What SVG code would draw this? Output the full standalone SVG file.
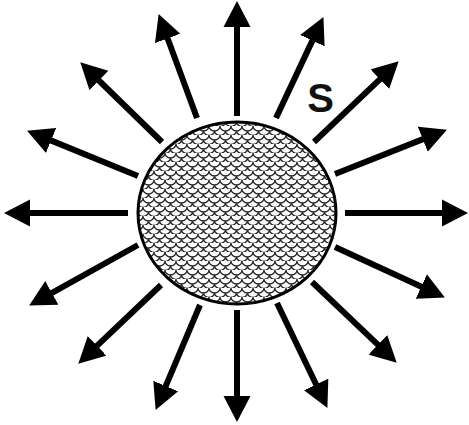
<svg xmlns="http://www.w3.org/2000/svg" width="469" height="425" viewBox="0 0 469 425">
<style>
.arrow{stroke:#000;stroke-width:6;fill:none;marker-end:url(#head)}
.label{font-family:"Liberation Sans",Arial,sans-serif;font-weight:bold;font-size:40px;fill:#111}
</style>
<defs>
<marker id="head" markerUnits="userSpaceOnUse" markerWidth="28" markerHeight="28" refX="5" refY="14" orient="auto" viewBox="0 0 28 28">
<path d="M0,0.5 L26,14 L0,27.5 Z" fill="#000"/>
</marker>
<pattern id="scales" patternUnits="userSpaceOnUse" width="11" height="9">
<rect width="11" height="9" fill="#fff"/>
<path d="M0,0 A5.5,5 0 0 0 11,0 M-5.5,4.5 A5.5,5 0 0 0 5.5,4.5 M5.5,4.5 A5.5,5 0 0 0 16.5,4.5 M0,9 A5.5,5 0 0 0 11,9" fill="none" stroke="#222" stroke-width="1.3"/>
</pattern>
</defs>
<rect width="469" height="425" fill="#fff"/>
<g id="connectors">
<line class="arrow" x1="237" y1="116" x2="237" y2="22"/>
<line class="arrow" x1="276" y1="118" x2="314.5" y2="36.1"/>
<line class="arrow" x1="314" y1="142" x2="383.5" y2="75.8"/>
<line class="arrow" x1="335" y1="174" x2="427.4" y2="137.4"/>
<line class="arrow" x1="345" y1="213" x2="447" y2="213"/>
<line class="arrow" x1="335" y1="247" x2="425.8" y2="288.7"/>
<line class="arrow" x1="312" y1="282" x2="381.5" y2="348.2"/>
<line class="arrow" x1="277" y1="303" x2="318.3" y2="389"/>
<line class="arrow" x1="237" y1="310" x2="237" y2="401"/>
<line class="arrow" x1="200" y1="305" x2="163.8" y2="390.6"/>
<line class="arrow" x1="161" y1="285" x2="93.5" y2="349.2"/>
<line class="arrow" x1="138" y1="245" x2="47.5" y2="295.3"/>
<line class="arrow" x1="128" y1="213" x2="25" y2="213"/>
<line class="arrow" x1="138" y1="176" x2="46.5" y2="138.6"/>
<line class="arrow" x1="162" y1="142" x2="95.3" y2="77"/>
<line class="arrow" x1="197" y1="118" x2="165.9" y2="33.8"/>
</g>
<g id="sphere">
<ellipse cx="237" cy="213" rx="99" ry="91" fill="url(#scales)" stroke="#000" stroke-width="3"/>
</g>
<g id="label-s">
<text class="label" x="320.5" y="112" text-anchor="middle">S</text>
</g>
</svg>
